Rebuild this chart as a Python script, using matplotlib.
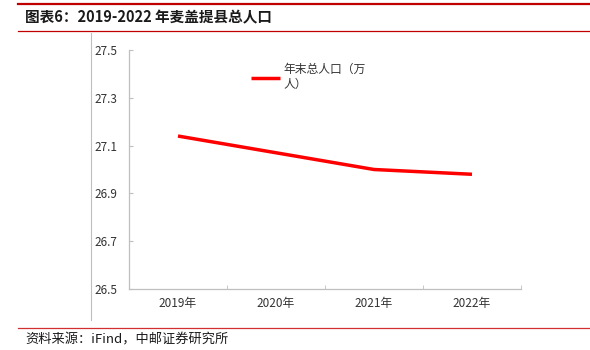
import matplotlib.pyplot as plt
from matplotlib.lines import Line2D

plt.rcParams['font.family'] = ['Noto Sans CJK SC', 'DejaVu Sans']

# 麦盖提县年末总人口（万人）
years = ['2019年', '2020年', '2021年', '2022年']
population = [27.14, 27.07, 27.00, 26.98]
y_ticks = [26.5, 26.7, 26.9, 27.1, 27.3, 27.5]

fig = plt.figure(figsize=(5.9, 3.5), dpi=100)
W, H = 590, 350

# 页眉、页脚的红色分隔线
fig.add_artist(Line2D([18 / W, 1], [1 - 4 / H, 1 - 4 / H], color='#c00000', lw=1.6))
fig.add_artist(Line2D([18 / W, 1], [1 - 31 / H, 1 - 31 / H], color='#c00000', lw=0.9))
fig.add_artist(Line2D([18 / W, 1], [1 - 328 / H, 1 - 328 / H], color='#d03030', lw=0.9))
fig.add_artist(Line2D([91 / W, 91 / W], [1 - 33 / H, 1 - 320 / H], color='#bfbfbf', lw=0.8))

fig.text(25 / W, 1 - 17 / H, '图表6：2019-2022 年麦盖提县总人口', fontsize=10.5,
         fontweight='bold', va='center', ha='left', color='#1a1a1a')
fig.text(25 / W, 1 - 340 / H, '资料来源：iFind，中邮证券研究所', fontsize=9.5,
         va='center', ha='left', color='#1a1a1a')

ax = fig.add_axes([129 / W, 1 - 289 / H, (521 - 129) / W, (289 - 50) / H])
x = range(len(years))
ax.plot(x, population, color='#ff0000', lw=2.5, solid_capstyle='butt',
        label='年末总人口（万\n人）')

ax.set_xlim(-0.5, len(years) - 0.5)
ax.set_ylim(26.5, 27.5)
ax.set_yticks(y_ticks)
ax.set_yticklabels([f'{v:.1f}' for v in y_ticks], fontsize=8.5, color='#333333')
ax.set_xticks(list(x))
ax.set_xticklabels(years, fontsize=8.5, color='#333333')
ax.tick_params(axis='x', length=0, pad=6)
ax.tick_params(axis='y', length=3, color='#bfbfbf', direction='in', pad=8.5)
ax.set_xticks([i + 0.5 for i in range(len(years))], minor=True)
ax.tick_params(axis='x', which='minor', length=3, color='#bfbfbf', direction='in')
for s in ['top', 'right']:
    ax.spines[s].set_visible(False)
for s in ['left', 'bottom']:
    ax.spines[s].set_color('#bfbfbf')
    ax.spines[s].set_linewidth(0.9)

ax.legend(loc='upper left', bbox_to_anchor=(0.285, 0.99), frameon=False,
          fontsize=8.5, handlelength=2.4, handletextpad=0.3, labelcolor='#333333')

fig.savefig('out.png', dpi=100)
